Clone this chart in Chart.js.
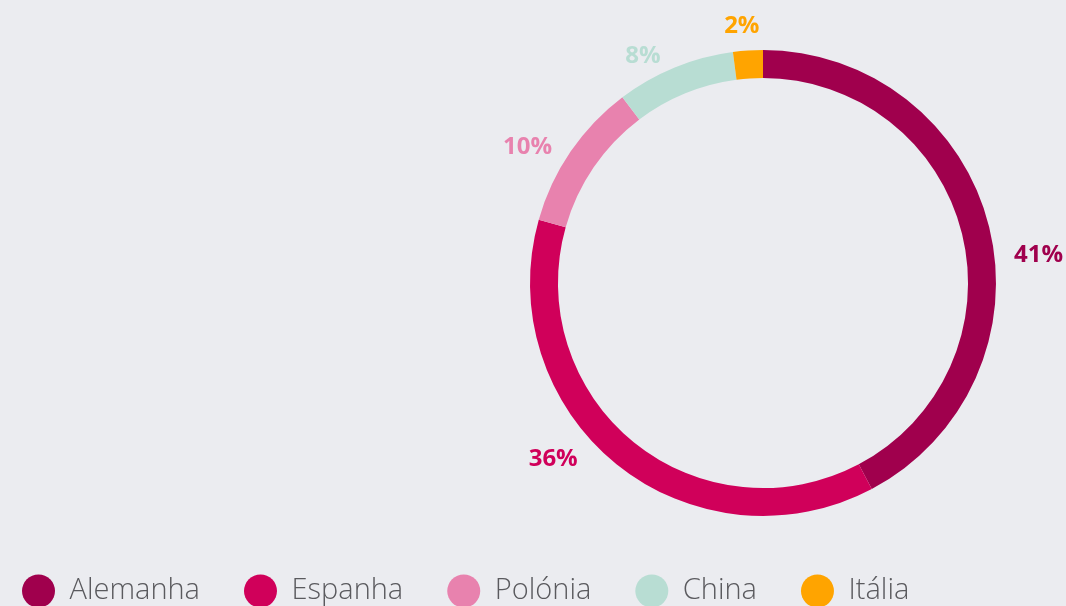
<!DOCTYPE html>
<html>
<head>
<meta charset="utf-8">
<script src="https://cdn.jsdelivr.net/npm/chart.js@4.4.0/dist/chart.umd.min.js"></script>
<style>
  html, body { margin: 0; padding: 0; background: #ebecf0; overflow: hidden; }
  #wrap { width: 1066px; height: 606px; }
</style>
</head>
<body>
<div id="wrap"><canvas id="mycanvas" width="1066" height="606"></canvas></div>
<script>
var paises = ['Alemanha', 'Espanha', 'Polónia', 'China', 'Itália'];
var percentagens = [41, 36, 10, 8, 2];
var cores = ['#a0004d', '#d0005a', '#e882ae', '#b8ddd3', '#ffa400'];

// o anel fica à direita: encolhe a área do gráfico pela esquerda
var anelDireita = {
    id: 'anelDireita',
    afterLayout: function(chart, args, opts) {
        var area = chart.chartArea;
        area.left = 2 * opts.centroX - area.right;
        area.width = area.right - area.left;
    }
};

// percentagem de cada fatia escrita por fora do anel
var rotulosFora = {
    id: 'rotulosFora',
    afterDatasetsDraw: function(chart, args, opts) {
        var ctx = chart.ctx;
        var meta = chart.getDatasetMeta(0);
        ctx.save();
        ctx.font = opts.font;
        ctx.textAlign = 'center';
        ctx.textBaseline = 'middle';
        meta.data.forEach(function(arc, i) {
            var p = arc.getProps(['x', 'y', 'startAngle', 'endAngle', 'outerRadius'], true);
            var ang = (p.startAngle + p.endAngle) / 2 + (opts.giro[i] || 0) * Math.PI / 180;
            var r = p.outerRadius + (opts.distancia[i] || 0);
            ctx.fillStyle = cores[i];
            ctx.fillText(percentagens[i] + '%', p.x + Math.cos(ang) * r, p.y + Math.sin(ang) * r);
        });
        ctx.restore();
    }
};

var chartdata = {
    labels: paises,
    datasets: [
        {
            data: percentagens,
            backgroundColor: cores,
            borderWidth: 0,
            radius: 233,
            cutout: '88%'
        }
    ]
};

var ctx = document.getElementById('mycanvas');

var graficoAnel = new Chart(ctx, {
    type: 'doughnut',
    data: chartdata,
    plugins: [anelDireita, rotulosFora],
    options: {
        responsive: false,
        animation: false,
        events: [],
        layout: {
            padding: { left: -22, right: 0, top: 33.5, bottom: -9.5 }
        },
        plugins: {
            tooltip: { enabled: false },
            legend: {
                position: 'bottom',
                align: 'start',
                labels: {
                    usePointStyle: true,
                    pointStyle: 'circle',
                    pointStyleWidth: 33,
                    boxHeight: 23.3,
                    padding: 44,
                    color: '#5a5a5e',
                    font: { family: "'Open Sans', sans-serif", size: 29, weight: '300' }
                }
            },
            anelDireita: { centroX: 763 },
            rotulosFora: {
                font: "bold 24px 'Open Sans', sans-serif",
                giro: [8.1, 11, -4.3, -5.6, -1],
                distancia: [44, 41, 39, 24, 25]
            }
        }
    }
});
</script>
</body>
</html>
